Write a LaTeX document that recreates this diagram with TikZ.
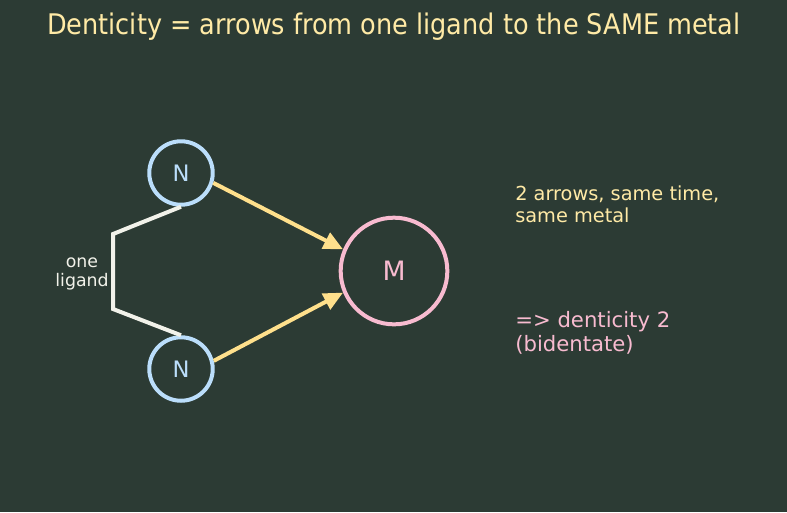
\documentclass[tikz,border=0pt]{standalone}
\usepackage{fontspec}
\setmainfont{DejaVu Sans}
\newfontfamily\titlefont{DejaVu Sans Condensed}
\usetikzlibrary{arrows.meta}
\definecolor{slatebg}{HTML}{2C3B34}
\definecolor{paleyellow}{HTML}{FFEAA6}
\definecolor{arrowyellow}{HTML}{FFE08C}
\definecolor{lightblue}{HTML}{BBDEFB}
\definecolor{lightpink}{HTML}{F8BBD0}
\definecolor{offwhite}{HTML}{F2F2EA}

\begin{document}
\begin{tikzpicture}[x=0.75pt,y=-0.75pt,
	donor/.style={circle,draw=lightblue,text=lightblue,line width=3pt,
		minimum size=47.6pt,inner sep=0pt,font=\fontsize{17}{20}\selectfont},
	metalnode/.style={circle,draw=lightpink,text=lightpink,line width=3pt,
		minimum size=80pt,inner sep=0pt,font=\fontsize{20}{24}\selectfont},
	bond/.style={draw=arrowyellow,line width=3pt,
		-{Triangle[length=14.5pt,width=13pt]}},
	ligand/.style={draw=offwhite,line width=3pt}]

\def\nx{181}
\def\bx{113}

% Background
\fill [slatebg] (0,0) rectangle (787,512);
\path [use as bounding box] (0,0) rectangle (787,512);

% Title
\node [anchor=base,text=paleyellow,font=\titlefont\fontsize{21.3}{25}\selectfont]
	(title) at (394,34) {Denticity = arrows from one ligand to the SAME metal};

% Atoms
\node [donor] (nTop) at (\nx,173) {N};
\node [donor] (nBot) at (\nx,369) {N};
\node [metalnode] (metal) at (394,271) {M};

% Ligand backbone
\coordinate (kneeTop) at (\bx,234);
\coordinate (kneeBot) at (\bx,309);
\draw [ligand] (nTop.south) -- (kneeTop) -- (kneeBot) -- (nBot.north);
\node [text=offwhite,align=center,font=\fontsize{13}{14.8}\selectfont]
	(lig) at (82,274) {one\\ligand};

% Bonds
\draw [bond] (nTop.-17) -- (metal.157);
\draw [bond] (nBot.14) -- (metal.-157);

% Notes
\node [anchor=north west,inner sep=0pt,align=left,text=paleyellow,
	font=\fontsize{14.5}{16.5}\selectfont]
	(note) at (515,186) {2 arrows, same time,\\same metal};
\node [anchor=north west,inner sep=0pt,align=left,text=lightpink,
	font=\fontsize{15.9}{17.8}\selectfont]
	(result) at (515,311) {=> denticity 2\\(bidentate)};

\end{tikzpicture}
\end{document}
